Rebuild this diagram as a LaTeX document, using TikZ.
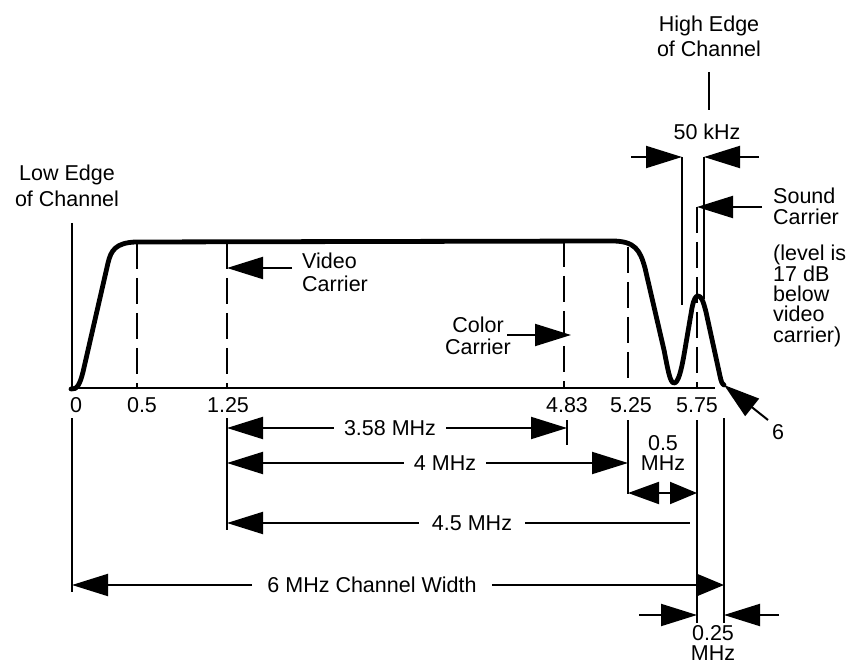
\documentclass[tikz,border=0pt]{standalone}
\usepackage{fontspec}
\setmainfont{Liberation Sans}
\usetikzlibrary{arrows.meta}
\begin{document}
\begin{tikzpicture}[x=1pt,y=-1pt,
  thinln/.style={line width=2pt},
  curveln/.style={line width=4.8pt,line cap=round,line join=round},
  dashln/.style={line width=2pt,dash pattern=on 26pt off 9pt},
  arr/.style={line width=2pt,-{Triangle[length=36pt,width=22pt]}},
  arrs/.style={line width=2pt,-{Triangle[length=27pt,width=22pt]}},
  arrm/.style={line width=2pt,{Triangle[length=31pt,width=22pt]}-{Triangle[length=27pt,width=22pt]}},
  lbl/.style={inner sep=0pt,font=\fontsize{21.5pt}{22pt}\selectfont},
  dimlbl/.style={lbl,inner xsep=10pt},
]
\useasboundingbox (0,0) rectangle (849,668);

% ---------- axis and spectrum curve ----------
\coordinate (ax0) at (70,388);
\coordinate (ax1) at (715,388);
\draw[thinln] (ax0) -- (ax1);

\draw[curveln] (71,389) .. controls (77,390) and (80,384) .. (83,372)
  -- (108,263) .. controls (111,250) and (116,243) .. (135,242)
  -- (612,241) .. controls (635,241) and (640,250) .. (645,268)
  -- (664,350) .. controls (668,370) and (670,383) .. (674,383)
  .. controls (678,383) and (681,372) .. (684,355)
  -- (692,308) .. controls (694,298) and (696,296) .. (698,296)
  .. controls (701,296) and (703,300) .. (706,312)
  -- (720,376) .. controls (721,381) and (722,384) .. (724,385);

% ---------- dashed marker lines ----------
\coordinate (d05t) at (137,243);  \coordinate (d05b) at (137,388);
\coordinate (d125t) at (227,243); \coordinate (d125b) at (227,388);
\coordinate (d483t) at (564,241); \coordinate (d483b) at (564,388);
\coordinate (d525t) at (628,247); \coordinate (d525b) at (628,388);
\coordinate (d575t) at (697,207); \coordinate (d575b) at (697,388);
\draw[dashln] (d05t) -- (d05b);
\draw[dashln] (d125t) -- (d125b);
\draw[dashln] (d483t) -- (d483b);
\draw[dashln] (d525t) -- (d525b);
\draw[dashln] (d575t) -- (d575b);

% ---------- low edge ----------
\node[lbl,align=center,font=\fontsize{21.5pt}{26pt}\selectfont] (lowedge) at (67,186) {Low Edge\\of Channel};
\coordinate (le1) at (72,223); \coordinate (le2) at (72,388);
\draw[thinln] (le1) -- (le2);

% ---------- high edge / 50 kHz ----------
\node[lbl,align=center,font=\fontsize{21.5pt}{25pt}\selectfont] (highedge) at (709,36) {High Edge\\of Channel};
\coordinate (he1) at (709,72); \coordinate (he2) at (709,110);
\draw[thinln] (he1) -- (he2);
\node[lbl] (khz) at (707,132) {50 kHz};
\coordinate (kA) at (631,157); \coordinate (kL) at (682,157);
\coordinate (kB) at (759,157); \coordinate (kR) at (704,157);
\coordinate (kLb) at (682,305); \coordinate (kRb) at (704,299);
\draw[thinln] (kL) -- (kLb);
\draw[thinln] (kR) -- (kRb);
\draw[arr] (kA) -- (kL);
\draw[arr] (kB) -- (kR);

% ---------- sound carrier ----------
\node[lbl,align=left,anchor=west,font=\fontsize{21.5pt}{21pt}\selectfont,inner xsep=0pt] (sound) at (773,206) {Sound\\Carrier};
\coordinate (sA) at (762,207);
\draw[arr] (sA) -- (d575t);
\node[lbl,align=left,anchor=west,font=\fontsize{21.5pt}{20.3pt}\selectfont] (level) at (773,296) {(level is\\17 dB\\below\\video\\carrier)};

% ---------- video carrier ----------
\node[lbl,align=left,anchor=west,font=\fontsize{21.5pt}{23pt}\selectfont] (video) at (302,272) {Video\\Carrier};
\coordinate (vA) at (292,268); \coordinate (vT) at (227,268);
\draw[arr] (vA) -- (vT);

% ---------- color carrier ----------
\node[lbl,align=center,font=\fontsize{21.5pt}{22pt}\selectfont] (color) at (478,336) {Color\\Carrier};
\coordinate (cA) at (507,335); \coordinate (cT) at (571,335);
\draw[arr] (cA) -- (cT);

% ---------- tick labels ----------
\node[lbl] (l0) at (76,405) {0};
\node[lbl] (l05) at (142,405) {0.5};
\node[lbl] (l125) at (228,405) {1.25};
\node[lbl] (l483) at (567,405) {4.83};
\node[lbl] (l525) at (631,405) {5.25};
\node[lbl] (l575) at (697,405) {5.75};
\node[lbl] (l6) at (778,432) {6};
\coordinate (sixA) at (768,420); \coordinate (sixT) at (724,385);
\draw[arr] (sixA) -- (sixT);

% ---------- extension lines ----------
\coordinate (e0t) at (72,418);   \coordinate (e0b) at (72,592);
\coordinate (e125t) at (227,418); \coordinate (e125b) at (227,530);
\coordinate (e483t) at (567,420); \coordinate (e483b) at (567,445);
\coordinate (e525t) at (628,420); \coordinate (e525b) at (628,494);
\coordinate (e575t) at (697,420); \coordinate (e575b) at (697,623);
\coordinate (e6t) at (724,418);   \coordinate (e6b) at (724,623);
\draw[thinln] (e0t) -- (e0b);
\draw[thinln] (e125t) -- (e125b);
\draw[thinln] (e483t) -- (e483b);
\draw[thinln] (e525t) -- (e525b);
\draw[thinln] (e575t) -- (e575b);
\draw[thinln] (e6t) -- (e6b);

% ---------- dimension lines ----------
\node[dimlbl] (m358) at (390,428) {3.58 MHz};
\draw[arr] (m358.west) -- (227,428);
\draw[arr] (m358.east) -- (567,428);

\node[dimlbl] (m4) at (445,463) {4 MHz};
\draw[arr] (m4.west) -- (227,463);
\draw[arr] (m4.east) -- (628,463);

\node[dimlbl,inner xsep=13pt] (m45) at (472,523) {4.5 MHz};
\draw[arr] (m45.west) -- (227,523);
\coordinate (m45e) at (690,523);
\draw[thinln] (m45.east) -- (m45e);

\node[dimlbl,inner xsep=15pt] (m6) at (372,585) {6 MHz Channel Width};
\draw[arr] (m6.west) -- (72,585);
\draw[arrs] (m6.east) -- (724,585);

\node[lbl,align=center,font=\fontsize{21.5pt}{20pt}\selectfont] (m05) at (663,453) {0.5\\MHz};
\coordinate (h05a) at (628,493); \coordinate (h05b) at (697,493);
\draw[arrm] (h05a) -- (h05b);

\node[lbl,align=center,font=\fontsize{21.5pt}{20pt}\selectfont] (m025) at (713,643) {0.25\\MHz};
\coordinate (qA) at (639,615); \coordinate (qL) at (697,615);
\coordinate (qB) at (779,615); \coordinate (qR) at (724,615);
\draw[arr] (qA) -- (qL);
\draw[arr] (qB) -- (qR);
\end{tikzpicture}
\end{document}
